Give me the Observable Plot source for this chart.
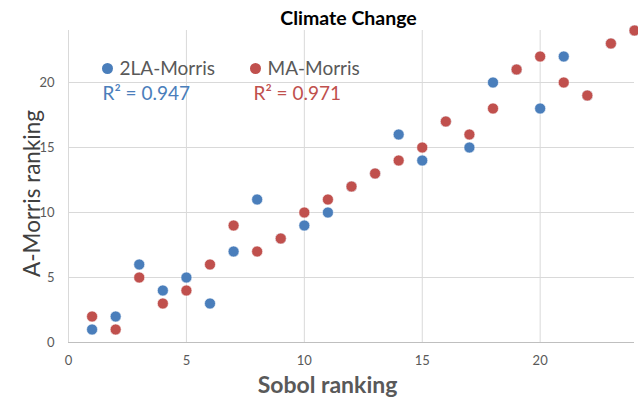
<!DOCTYPE html>
<html>
<head>
<meta charset="utf-8">
<script src="https://cdn.jsdelivr.net/npm/d3@7"></script>
<script src="https://cdn.jsdelivr.net/npm/@observablehq/plot@0.6"></script>
<style>
  html, body { margin: 0; padding: 0; background: #fff; }
  svg { display: block; }
</style>
</head>
<body>
<div id="chart"></div>
<script>
const sobol = d3.range(1, 25);
const twoLA = [1,2,6,4,5,3,7,11,8,9,10,12,13,16,14,17,15,20,21,18,22,19,23,24];
const maMorris = [2,1,5,3,4,6,9,7,8,10,11,12,13,14,15,17,16,18,21,22,20,19,23,24];
const xTicks = [0,5,10,15,20];
const yTicks = [0,5,10,15,20];
const seriesNames = ["2LA-Morris", "MA-Morris"];
const r2Labels = ["R² = 0.947", "R² = 0.971"];
const colors = ["#4a7ebb", "#c0504d"];

const blueData = sobol.map((s, i) => ({x: s, y: twoLA[i]}));
const redData = sobol.map((s, i) => ({x: s, y: maMorris[i]}));

const font = "Lato, 'Open Sans', sans-serif";

const chart = Plot.plot({
  width: 638,
  height: 401,
  marginLeft: 68,
  marginRight: 4,
  marginTop: 30,
  marginBottom: 59,
  style: {fontFamily: font, background: "#fff"},
  x: {domain: [0, 24]},
  y: {domain: [0, 24]},
  marks: [
    Plot.gridX(xTicks, {stroke: "#d9d9d9", strokeOpacity: 1, strokeWidth: 1}),
    Plot.gridY(yTicks, {stroke: "#d9d9d9", strokeOpacity: 1, strokeWidth: 1}),
    Plot.ruleY([0], {stroke: "#bfbfbf", strokeWidth: 1}),
    Plot.axisX(xTicks, {tickSize: 0, tickPadding: 13, fontSize: 13, fill: "#595959", label: null}),
    Plot.axisY(yTicks, {tickSize: 0, tickPadding: 14, fontSize: 13, fill: "#595959", label: null}),
    Plot.dot(blueData, {x: "x", y: "y", r: 5.5, fill: colors[0], stroke: "#fff", strokeWidth: 0.6}),
    Plot.dot(redData, {x: "x", y: "y", r: 5.5, fill: colors[1], stroke: "#fff", strokeWidth: 0.6}),
    // title
    Plot.text(["Climate Change"], {frameAnchor: "top", lineAnchor: "middle", dy: -12, dx: -3, fontSize: 19.5, fontWeight: "bold", fill: "#000"}),
    // axis titles
    Plot.text(["Sobol ranking"], {frameAnchor: "bottom", lineAnchor: "middle", dy: 43, dx: -24, fontSize: 23, fontWeight: "bold", fill: "#595959"}),
    Plot.text(["A-Morris ranking"], {frameAnchor: "left", textAnchor: "middle", lineAnchor: "middle", dx: -36, dy: 7, rotate: -90, fontSize: 22.5, fill: "#404040"}),
    // legend
    Plot.dot([0], {frameAnchor: "top-left", dx: 39, dy: 38, r: 5.5, fill: colors[0]}),
    Plot.text([seriesNames[0]], {frameAnchor: "top-left", lineAnchor: "middle", dx: 51, dy: 38, textAnchor: "start", fontSize: 19, fill: "#595959"}),
    Plot.dot([0], {frameAnchor: "top-left", dx: 187, dy: 38, r: 5.5, fill: colors[1]}),
    Plot.text([seriesNames[1]], {frameAnchor: "top-left", lineAnchor: "middle", dx: 199, dy: 38, textAnchor: "start", fontSize: 19, fill: "#595959"}),
    Plot.text([r2Labels[0]], {frameAnchor: "top-left", lineAnchor: "middle", dx: 34, dy: 63, textAnchor: "start", fontSize: 19, fill: colors[0]}),
    Plot.text([r2Labels[1]], {frameAnchor: "top-left", lineAnchor: "middle", dx: 185, dy: 63, textAnchor: "start", fontSize: 19, fill: colors[1]})
  ]
});
document.getElementById("chart").appendChild(chart);
</script>
</body>
</html>
